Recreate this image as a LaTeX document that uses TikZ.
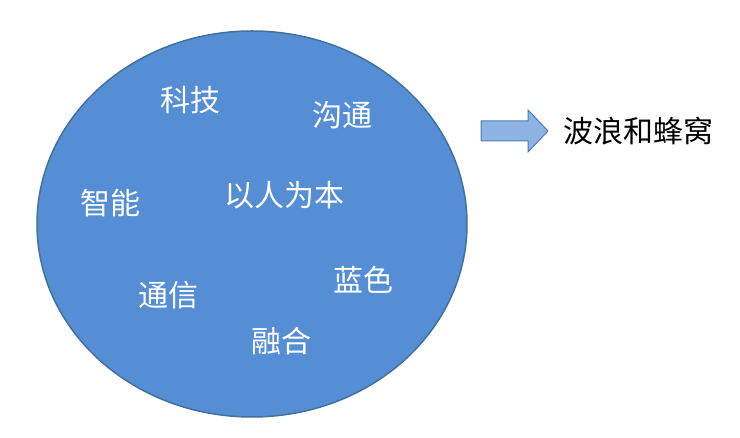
\documentclass[tikz,border=0pt]{standalone}
\usepackage{fontspec}
\usetikzlibrary{shapes.geometric}
\newfontfamily\cjk{Noto Sans CJK SC}
\begin{document}
\begin{tikzpicture}[x=1pt,y=1pt,
  lbl/.style={text=white,font=\cjk\fontsize{30}{34}\selectfont,inner sep=0pt}]
\useasboundingbox (0,0) rectangle (740,438);
\definecolor{bfill}{HTML}{558ED5}
\definecolor{bline}{HTML}{41719C}
\definecolor{afill}{HTML}{8EB4E3}
\definecolor{aline}{HTML}{4A7EBB}
\node[ellipse,draw=bline,line width=1.5pt,fill=bfill,minimum width=430,minimum height=386,inner sep=0pt] (c) at (252,214) {};
\node[lbl] (a1) at (190,338) {科技};
\node[lbl] (a2) at (342,323) {沟通};
\node[lbl] (a3) at (110,235) {智能};
\node[lbl] (a4) at (284,243) {以人为本};
\node[lbl] (a5) at (363,158) {蓝色};
\node[lbl] (a6) at (168,143) {通信};
\node[lbl] (a7) at (281,97) {融合};
\draw[aline,fill=afill,line width=1pt] (481,317) -- (528,317) -- (528,328) -- (548,307) -- (528,286) -- (528,297) -- (481,297) -- cycle;
\node[font=\cjk\fontsize{30}{34}\selectfont,inner sep=0pt,anchor=west] (t) at (563,307) {波浪和蜂窝};
\end{tikzpicture}
\end{document}
